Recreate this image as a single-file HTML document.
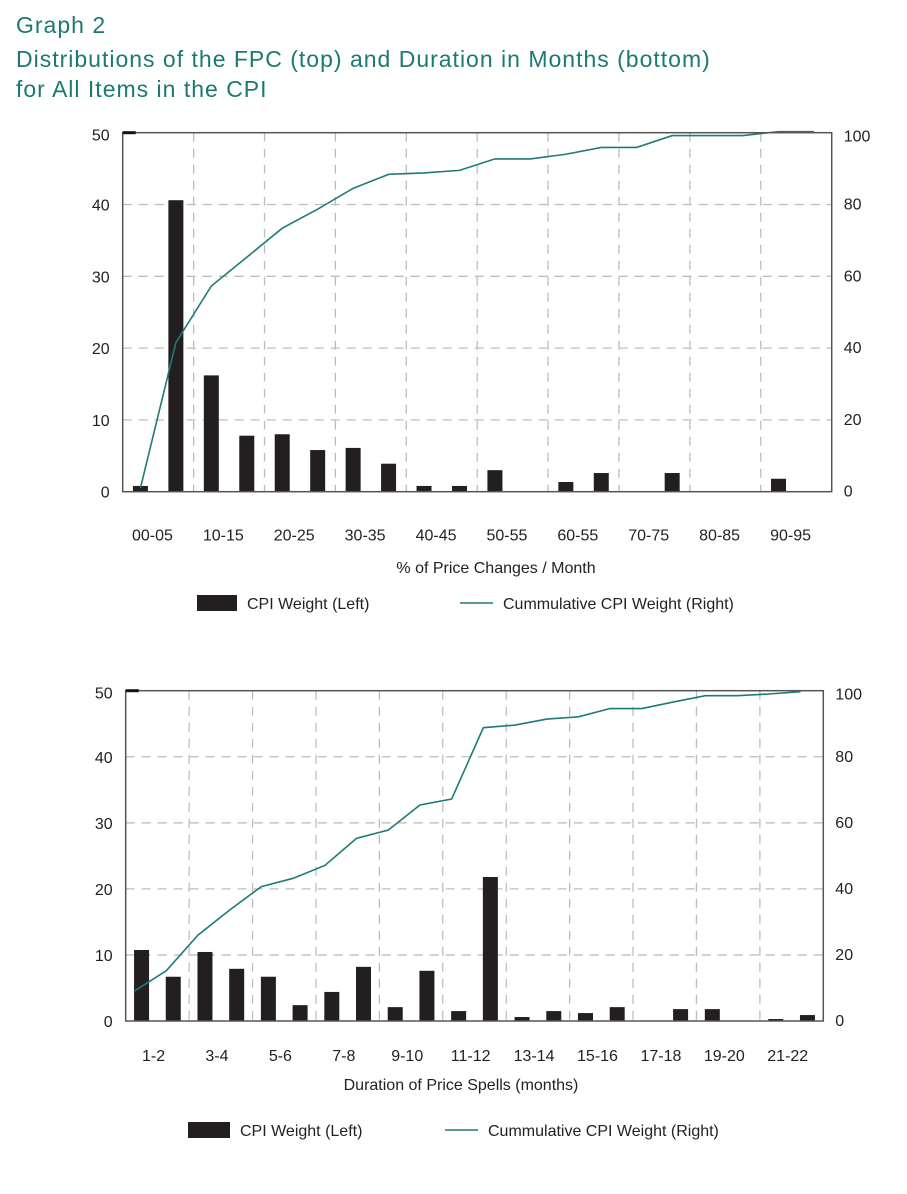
<!DOCTYPE html>
<html><head><meta charset="utf-8">
<style>
body{margin:0;background:#fff;width:907px;height:1194px;overflow:hidden;font-family:"Liberation Sans",sans-serif;}
.t{position:absolute;left:16px;color:#1a7a72;font-size:23px;line-height:30px;letter-spacing:1px;}
</style></head>
<body>
<div class="t" style="top:10px">Graph 2</div>
<div class="t" style="top:44px">Distributions of the FPC (top) and Duration in Months (bottom)<br>for All Items in the CPI</div>
<svg id="svg" width="907" height="1194" style="position:absolute;left:0;top:0;font-family:'Liberation Sans',sans-serif"></svg>
<script>
const topCats=["00-05","05-10","10-15","15-20","20-25","25-30","30-35","35-40","40-45","45-50","50-55","55-60","60-55","65-70","70-75","75-80","80-85","85-90","90-95","95-100"];
const topBars=[0.8,40.6,16.2,7.8,8.0,5.8,6.1,3.9,0.8,0.8,3.0,0,1.35,2.6,0,2.6,0,0,1.8,0];
const topCum=[1,41.5,57.3,65.3,73.4,78.7,84.5,88.4,88.8,89.5,92.7,92.7,94,95.9,95.9,99.2,99.2,99.2,100.3,100.3];
const botCats=["1-2","2-3","3-4","4-5","5-6","6-7","7-8","8-9","9-10","10-11","11-12","12-13","13-14","14-15","15-16","16-17","17-18","18-19","19-20","20-21","21-22","22-23"];
const botBars=[10.75,6.7,10.45,7.9,6.7,2.4,4.4,8.2,2.1,7.6,1.5,21.8,0.6,1.5,1.2,2.1,0,1.8,1.8,0,0.3,0.9];
const botCum=[9.1,15.2,26,33.6,40.7,43.2,47.1,55.3,57.8,65.4,67.2,88.8,89.6,91.4,92.1,94.6,94.6,96.6,98.5,98.5,99,99.7];
const leftTicks=[0,10,20,30,40,50];
const rightTicks=[0,20,40,60,80,100];

const svg=document.getElementById('svg');
const NS='http://www.w3.org/2000/svg';
function mk(tag,attrs,text){const e=document.createElementNS(NS,tag);for(const k in attrs)e.setAttribute(k,attrs[k]);if(text!==undefined)e.textContent=text;svg.appendChild(e);return e;}

function chart(o){
  const {L,R,T,B,cats,bars,cum,pfx}=o;
  const n=cats.length, cw=(R-L)/n;
  const y=v=>B-(B-T)*v/50, yr=v=>B-(B-T)*v/100, xc=i=>L+cw*(i+0.5);
  leftTicks.forEach(v=>{ if(v>0&&v<50){const g=mk('line',{x1:L,x2:R,y1:y(v),y2:y(v),stroke:'#bdbdbd','stroke-width':1.3,'stroke-dasharray':'9,7'});
    
    }});
  for(let i=2;i<n;i+=2){const g=mk('line',{x1:L+cw*i,x2:L+cw*i,y1:T,y2:B,stroke:'#bdbdbd','stroke-width':1.3,'stroke-dasharray':'9,7'});
    
    }
  bars.forEach((v,i)=>{ if(v<=0)return; const r=mk('rect',{x:xc(i)-7.5,y:y(v),width:15,height:B-y(v),fill:'#231f20'});
    
    });
  const pts=cum.map((v,i)=>(xc(i)+o.lo)+','+yr(v)).join(' ');
  const pl=mk('polyline',{points:pts,fill:'none',stroke:'#1f7a78','stroke-width':1.6});
  
  
  const f=mk('rect',{x:L,y:T,width:R-L,height:B-T,fill:'none',stroke:'#555','stroke-width':1.5});
  
  
  mk('line',{x1:L,x2:L+13,y1:T,y2:T,stroke:'#111','stroke-width':3});
  leftTicks.forEach(v=>{const t=mk('text',{x:L-13,y:Math.max(y(v),T+2)+6,'text-anchor':'end','font-size':16,fill:'#222'},v);
    
    });
  rightTicks.forEach(v=>{const t=mk('text',{x:R+12,y:Math.max(yr(v),T+4)+5,'font-size':16,fill:'#222'},v);
    
    });
  cats.forEach((c,i)=>{ if(i%2)return; const t=mk('text',{x:xc(i)+o.xo,y:B+o.ly,'text-anchor':'middle','font-size':16,fill:'#222'},c);
    
    });
  const at=mk('text',{x:o.tx,y:o.ty,'text-anchor':'middle','font-size':16,fill:'#222'},o.title);
  
  
  const lr=mk('rect',{x:o.lgx,y:o.lgy-8,width:o.lgw,height:16,fill:'#231f20'});
  
  
  const l1=mk('text',{x:o.lgx+o.lgw+10,y:o.lgy+6,'font-size':16,fill:'#222'},'CPI Weight (Left)');
  
  
  const ll=mk('line',{x1:o.llx,x2:o.llx+33,y1:o.lgy,y2:o.lgy,stroke:'#1f7a78','stroke-width':1.6});
  
  
  const l2=mk('text',{x:o.llx+43,y:o.lgy+6,'font-size':16,fill:'#222'},'Cummulative CPI Weight (Right)');
  
  
}
chart({L:122.7,R:831.7,T:132.7,B:491.7,cats:topCats,bars:topBars,cum:topCum,pfx:'top-',lo:0,xo:12,ly:49,
  title:'% of Price Changes / Month',tx:496,ty:573,lgx:197,lgw:40,lgy:603,llx:460});
chart({L:125.7,R:823.3,T:690.7,B:1021,cats:botCats,bars:botBars,cum:botCum,pfx:'bottom-',lo:-7,xo:12,ly:40,
  title:'Duration of Price Spells (months)',tx:461,ty:1090,lgx:188,lgw:42,lgy:1130,llx:445});
</script>
</body></html>
